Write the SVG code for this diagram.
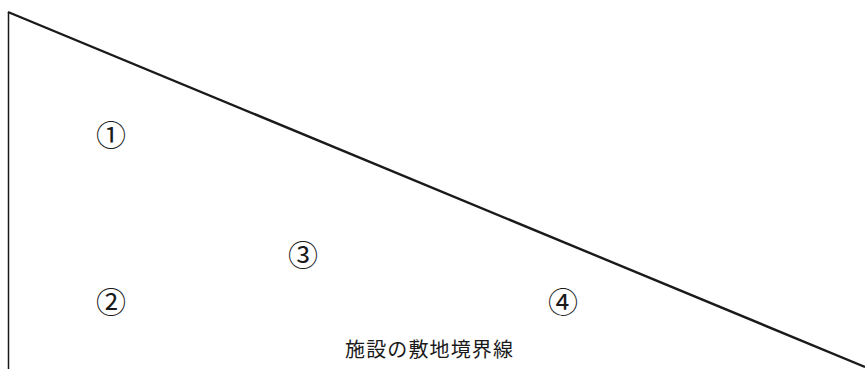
<svg xmlns="http://www.w3.org/2000/svg" width="865" height="369" viewBox="0 0 865 369">
<style>
.ln{stroke:#1a1a1a;fill:none}
.num{font-family:"Noto Sans CJK JP","Noto Sans CJK SC",sans-serif;font-size:30px;fill:#1a1a1a;text-anchor:middle;dominant-baseline:central}
.lbl{font-family:"Noto Sans CJK JP",sans-serif;font-size:20px;fill:#1a1a1a}
</style>
<rect width="865" height="369" fill="#fff"/>
<g id="connectors">
<line class="ln" x1="8.5" y1="12" x2="8.5" y2="369" stroke-width="1.5"/>
<line class="ln" x1="8" y1="12" x2="865" y2="367" stroke-width="2.4"/>
</g>
<g id="area1"><text class="num" x="111" y="133">①</text></g>
<g id="area2"><text class="num" x="111" y="300">②</text></g>
<g id="area3"><text class="num" x="303" y="253">③</text></g>
<g id="area4"><text class="num" x="563" y="300">④</text></g>
<g id="label"><text class="lbl" x="345" y="357" textLength="168">施設の敷地境界線</text></g>
</svg>
